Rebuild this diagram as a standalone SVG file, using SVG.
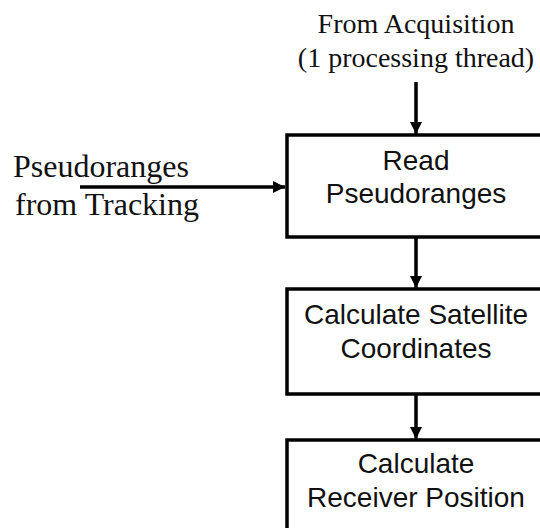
<svg xmlns="http://www.w3.org/2000/svg" width="540" height="528" viewBox="0 0 540 528">
  <defs>
    <marker id="arrow" viewBox="0 0 12 12" refX="12" refY="6" markerWidth="12" markerHeight="12" markerUnits="userSpaceOnUse" orient="auto">
      <path d="M0,0 L12,6 L0,12 Z" fill="#000"/>
    </marker>
    <style>
      .box { fill: #fff; stroke: #000; stroke-width: 3.5; }
      .label { font-family: "Liberation Sans", Arial, sans-serif; font-size: 28px; fill: #111; text-anchor: middle; }
      .note { font-family: "Liberation Serif", "Times New Roman", serif; fill: #111; }
      .conn { stroke: #000; stroke-width: 3.5; fill: none; marker-end: url(#arrow); }
    </style>
  </defs>
  <rect width="540" height="528" fill="#fff"/>

  <!-- input labels -->
  <g id="from-acquisition">
    <text class="note" x="416" y="33" font-size="28" text-anchor="middle">From Acquisition</text>
    <text class="note" x="416" y="66.5" font-size="28" text-anchor="middle">(1 processing thread)</text>
  </g>
  <g id="from-tracking">
    <text class="note" x="13" y="177" font-size="32">Pseudoranges</text>
    <text class="note" x="15" y="215" font-size="32">from Tracking</text>
  </g>

  <!-- processing steps -->
  <g id="read-pseudoranges">
    <rect class="box" x="287" y="135" width="280" height="102"/>
    <text class="label" x="416" y="170">Read</text>
    <text class="label" x="416" y="203">Pseudoranges</text>
  </g>
  <g id="calc-satellite-coords">
    <rect class="box" x="287" y="289" width="280" height="105"/>
    <text class="label" x="416" y="324">Calculate Satellite</text>
    <text class="label" x="416" y="358">Coordinates</text>
  </g>
  <g id="calc-receiver-position">
    <rect class="box" x="287" y="440" width="280" height="120"/>
    <text class="label" x="416" y="473">Calculate</text>
    <text class="label" x="416" y="507">Receiver Position</text>
  </g>

  <!-- connectors -->
  <g id="connectors">
    <line class="conn" x1="416" y1="82" x2="416" y2="134"/>
    <line class="conn" x1="80" y1="187" x2="285" y2="187"/>
    <line class="conn" x1="416" y1="238" x2="416" y2="288"/>
    <line class="conn" x1="416" y1="395" x2="416" y2="439"/>
  </g>
</svg>
